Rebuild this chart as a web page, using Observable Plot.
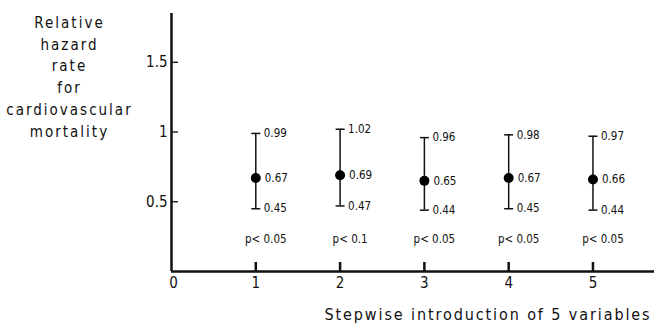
<!DOCTYPE html>
<html>
<head>
<meta charset="utf-8">
<script src="https://cdn.jsdelivr.net/npm/d3@7"></script>
<script src="https://cdn.jsdelivr.net/npm/@observablehq/plot@0.6"></script>
<style>
  html, body { margin: 0; padding: 0; background: #fff; }
  svg { display: block; }
</style>
</head>
<body>
<div id="chart"></div>
<script>
// ---- data ----
const steps = [1, 2, 3, 4, 5];
const estimates = [0.67, 0.69, 0.65, 0.67, 0.66];
const lowerCI = [0.45, 0.47, 0.44, 0.45, 0.44];
const upperCI = [0.99, 1.02, 0.96, 0.98, 0.97];
const pLabels = ["p< 0.05", "p< 0.1", "p< 0.05", "p< 0.05", "p< 0.05"];
const xTicks = [0, 1, 2, 3, 4, 5];
const yTicks = [0.5, 1, 1.5];
const yTickLabels = ["0.5", "1", "1.5"];
const yTitle = "Relative\nhazard\nrate\nfor\ncardiovascular\nmortality";
const xTitle = "Stepwise introduction of 5 variables";

const rows = steps.map((s, i) => ({
  step: s, est: estimates[i], lo: lowerCI[i], hi: upperCI[i], p: pLabels[i]
}));
const fmt = d3.format(".2f");

const capSymbol = {
  draw(context, size) {
    const r = Math.sqrt(size / Math.PI);
    context.moveTo(-r, 0);
    context.lineTo(r, 0);
  }
};

const FONT = "'DejaVu Sans Condensed', 'DejaVu Sans', sans-serif";

const chart = Plot.plot({
  width: 654,
  height: 326,
  marginLeft: 171,
  marginRight: 0,
  marginTop: 13,
  marginBottom: 55,
  style: { fontFamily: FONT, background: "#fff", color: "#111" },
  x: { domain: [0, 5.73] },
  y: { domain: [0, 1.85] },
  marks: [
    // axis lines
    Plot.ruleX([0], { stroke: "#111", strokeWidth: 2.5 }),
    Plot.ruleY([0], { stroke: "#111", strokeWidth: 2.5 }),
    // axes
    Plot.axisY(yTicks, {
      anchor: "left", tickSize: -7, tickPadding: 11, strokeWidth: 1.3,
      tickFormat: (d) => yTickLabels[yTicks.indexOf(d)], fontSize: 15, label: null
    }),
    Plot.axisX(xTicks.filter(d => d !== 0), {
      anchor: "bottom", tickSize: -9, tickPadding: 15, strokeWidth: 2.5,
      tickFormat: (d) => String(d), fontSize: 15, label: null
    }),
    Plot.axisX([0], {
      anchor: "bottom", tickSize: 0, tickPadding: 6, fontSize: 15, label: null, dx: 2
    }),
    // error bars
    Plot.ruleX(rows, { x: "step", y1: "lo", y2: "hi", stroke: "#111", strokeWidth: 1.5 }),
    Plot.dot(rows, { x: "step", y: "hi", r: 4.5, symbol: capSymbol, stroke: "#111", strokeWidth: 1.5, fill: "none" }),
    Plot.dot(rows, { x: "step", y: "lo", r: 4.5, symbol: capSymbol, stroke: "#111", strokeWidth: 1.5, fill: "none" }),
    Plot.dot(rows, { x: "step", y: "est", r: 5, fill: "#000", stroke: "none" }),
    // value labels
    Plot.text(rows, { x: "step", y: "hi", text: d => fmt(d.hi), dx: 8, textAnchor: "start", fontSize: 11.5, fill: "#111" }),
    Plot.text(rows, { x: "step", y: "est", text: d => fmt(d.est), dx: 9, textAnchor: "start", fontSize: 11.5, fill: "#111" }),
    Plot.text(rows, { x: "step", y: "lo", text: d => fmt(d.lo), dx: 8, textAnchor: "start", fontSize: 11.5, fill: "#111" }),
    // p-values
    Plot.text(rows, { x: "step", text: "p", frameAnchor: "bottom", dy: -29, dx: 10, fontSize: 11.5, fill: "#111" }),
    // titles
    Plot.text([yTitle], {
      frameAnchor: "top-left", dx: -102, dy: -1, textAnchor: "middle", lineAnchor: "top",
      lineHeight: 1.45, fontSize: 15, fill: "#111"
    }),
    Plot.text([xTitle], {
      frameAnchor: "bottom-right", dx: -3, dy: 43, textAnchor: "end", lineAnchor: "middle",
      fontSize: 16, fill: "#111"
    })
  ]
});

d3.select(chart).selectAll("text")
  .filter(function () { return this.textContent.includes("cardiovascular"); })
  .attr("letter-spacing", "2px");
d3.select(chart).selectAll("text")
  .filter(function () { return this.textContent === xTitle; })
  .attr("letter-spacing", "1.9px");

document.getElementById("chart").appendChild(chart);
</script>
</body>
</html>
